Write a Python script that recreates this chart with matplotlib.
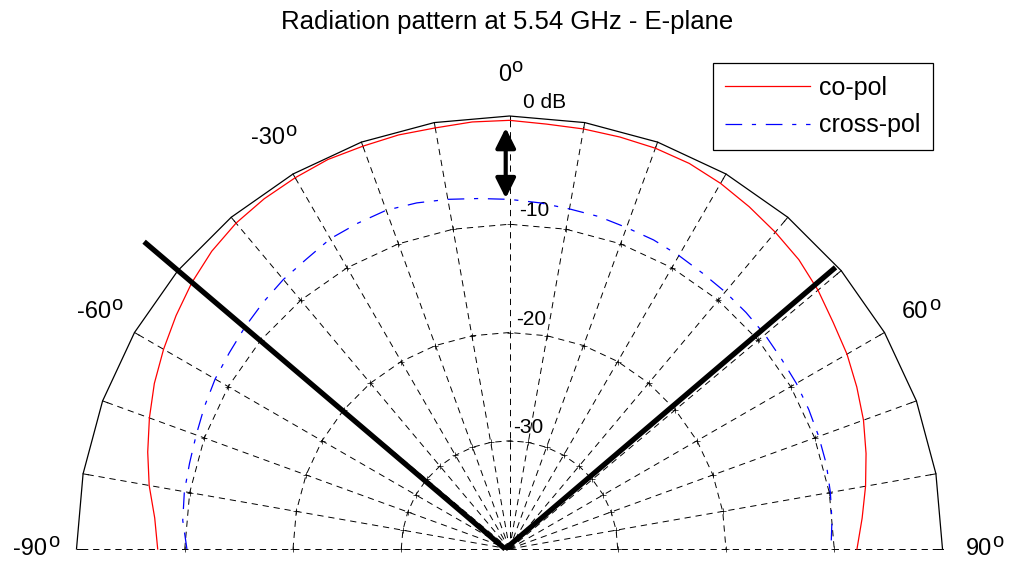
import numpy as np
import matplotlib
matplotlib.use('Agg')
import matplotlib.pyplot as plt

plt.rcParams['font.family'] = ['Liberation Sans', 'DejaVu Sans']
plt.rcParams['lines.scale_dashes'] = False

# E-plane cut at 5.54 GHz, dB relative to the co-pol maximum
theta_deg = np.arange(-90, 91, 5)
co_pol_db = [-7.5, -7.1, -6.2, -5.4, -4.6, -3.8, -3.1, -2.4, -1.7, -1.1,
             -0.7, -0.5, -0.4, -0.3, -0.4, -0.4, -0.5, -0.4, -0.4, -0.6,
             -0.6, -0.6, -0.6, -0.7, -1.0, -1.4, -1.8, -2.2, -2.8, -3.5,
             -4.0, -4.6, -5.2, -5.9, -6.6, -7.3, -7.9]
cross_pol_db = [-10.2, -9.7, -9.5, -9.4, -9.2, -8.9, -8.6, -8.4, -8.1, -7.8,
                -7.5, -7.3, -6.9, -6.8, -6.7, -6.9, -7.2, -7.5, -7.7, -7.9,
                -8.1, -8.2, -8.4, -8.5, -8.7, -8.9, -9.0, -9.1, -9.2, -9.35,
                -9.4, -9.5, -9.6, -9.7, -9.9, -10.1, -10.3]

floor_db = -40
ring_db = [-30, -20, -10]
spoke_deg = np.arange(-90, 91, 10)
angle_labels = [-90, -60, -30, 0, 60, 90]

# beam-edge markers and co/cross-pol arrow
beam_edge_deg = [-49.6, 49.55]
beam_edge_db = [3.8, 0.1]
xpol_arrow_db = [-1.1, -7.6]

S = 10.825  # pixels per dB


def to_xy(th, db):
    r = np.asarray(db, float) - floor_db
    t = np.radians(th)
    return r * np.sin(t), r * np.cos(t)


fig = plt.figure(figsize=(10.09, 5.66), dpi=100)
ax = fig.add_axes([0, 0, 1, 1])
ax.set_xlim(-509.5 / S, (1009 - 509.5) / S)
ax.set_ylim(-17 / S, 549 / S)
ax.axis('off')

grid_kw = dict(color='k', lw=0.7, ls=(0, (4.5, 3.5)))
# spokes
for th in spoke_deg:
    x, y = to_xy([th, th], [floor_db, 0])
    ax.plot(x, y, **grid_kw, zorder=1)
# dB rings (drawn as polygons through the spokes)
for rd in ring_db:
    x, y = to_xy(spoke_deg, np.full(len(spoke_deg), rd))
    ax.plot(x, y, **grid_kw, zorder=1)
    ax.plot(x, y, ls='none', marker='+', ms=4, mew=0.5, color='k', zorder=1)
# outer 0 dB boundary with inward ticks
x, y = to_xy(spoke_deg, np.zeros(len(spoke_deg)))
ax.plot(x, y, color='k', lw=0.9, zorder=2)
for th in spoke_deg:
    tx, ty = to_xy([th, th], [0, -0.5])
    ax.plot(tx, ty, color='k', lw=0.7, zorder=2)

# ring labels
for rd in ring_db + [0]:
    lx, ly = to_xy(1.7, rd + 0.74)
    ax.text(lx, ly, '0 dB' if rd == 0 else f'{rd}', ha='left', va='baseline',
            fontsize=15)

# angle labels: number plus a raised "o" for degrees
for th in angle_labels:
    lx, ly = to_xy(th, 3.8)
    t = ax.text(lx - 0.45, ly, f'{th}', ha='center', va='center', fontsize=17)
    ax.annotate('o', xy=(1.0, 0.86), xycoords=t, ha='left', va='center',
                xytext=(0.3, 0), textcoords='offset points', fontsize=14.5)

# pattern cuts
x, y = to_xy(theta_deg, co_pol_db)
ax.plot(x, y, color='#ff0000', lw=0.9, label='co-pol', zorder=3)
x, y = to_xy(theta_deg, cross_pol_db)
ax.plot(x, y, color='#0000ff', lw=0.9, ls=(0, (12, 7, 3, 7)),
        label='cross-pol', zorder=3)

# beam edges
for th, db in zip(beam_edge_deg, beam_edge_db):
    x, y = to_xy([th, th], [floor_db, db])
    ax.plot(x - 0.4, y, color='k', lw=3.8, solid_capstyle='butt', zorder=4)

# co/cross-pol separation arrow
ax_, ay0 = to_xy(0, xpol_arrow_db[0])
_, ay1 = to_xy(0, xpol_arrow_db[1])
ax.annotate('', xy=(ax_ - 0.35, ay0), xytext=(ax_ - 0.35, ay1),
            arrowprops=dict(arrowstyle='<|-|>,head_length=0.6,head_width=0.3',
                            mutation_scale=20, lw=3, color='k',
                            shrinkA=0, shrinkB=0), zorder=5)

leg = ax.legend(loc='upper right', bbox_to_anchor=(933 / 1009, 1 - 63 / 566),
                bbox_transform=fig.transFigure, borderaxespad=0,
                fontsize=18, handlelength=3.4, handletextpad=0.36,
                labelspacing=0.55, borderpad=0.5, fancybox=False,
                framealpha=1, edgecolor='k')
leg.get_frame().set_linewidth(0.9)

fig.text(507 / 1009, 1 - 22 / 566, 'Radiation pattern at 5.54 GHz - E-plane',
         ha='center', va='center', fontsize=18.5)

fig.savefig('out.png', dpi=100)
